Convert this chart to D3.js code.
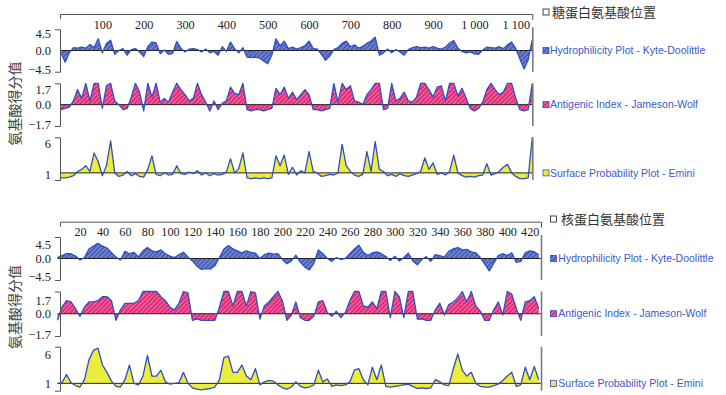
<!DOCTYPE html>
<html><head><meta charset="utf-8">
<script src="https://cdn.jsdelivr.net/npm/d3@7"></script>
<style>body{margin:0;background:#fff}svg{display:block}</style>
</head><body>
<svg id="c" width="726" height="395"></svg>
<script>
// ---------- DATA ----------
const seriesNames = ["Hydrophilicity Plot - Kyte-Doolittle", "Antigenic Index - Jameson-Wolf", "Surface Probability Plot - Emini"];
const panelTitles = ["糖蛋白氨基酸位置", "核蛋白氨基酸位置"];
const yTitle = "氨基酸得分值";

// glycoprotein: residue 0..1140, every 10 residues
const topStep = 10;
const topHydro = [-0.5,-2.5,-0.5,0.6,0.5,0.7,0.5,1.3,0.6,2.5,-0.5,1.5,2.2,-0.8,0,0.4,-1,0.2,0.4,-0.3,
 -1.3,0.8,1.8,1.6,-0.7,0.1,-0.8,-0.6,1.9,0.5,-0.3,0.3,0.4,0.2,-0.3,0.3,-0.5,-0.2,-1,0.8,
 -0.2,1.8,0.4,-0.5,0.6,-1.4,-1.5,-1.4,-1.6,-2.2,-2.8,-1.0,2.5,1.0,2.0,0.4,0.7,0.3,0.6,1.0,
 2.0,0.4,0.3,-0.8,-2.1,-1.2,0.2,0.6,1.5,2.0,0.8,1.2,0.5,0.9,1.5,2.0,2.8,-1.0,-0.5,0.3,
 -0.5,0.2,-0.3,-1.0,0.2,0.6,0.8,0.6,0.7,0.5,0.8,0.5,0.3,0.7,1.6,2.1,0.5,-0.2,-0.5,-0.3,
 -0.7,-0.8,0.1,0.7,0.6,0.5,0.8,0.4,1.2,1.8,0.4,-1.8,-3.9,-2.0,2.3];
const topAntigen = [-0.4,-0.3,-0.2,0.3,1.2,0.5,1.7,0.3,1.7,1.7,-0.3,1.5,1.7,0.3,0,-0.4,-0.3,0.6,1.7,1.0,
 -0.5,1.7,0.6,1.7,0.2,0.5,0.2,1.0,1.7,1.2,0.8,0.3,0.5,1.7,0.8,0.2,-0.5,0.3,-0.4,0.1,
 0.3,1.4,0.9,0.8,1.7,-0.4,-0.5,-0.4,-0.4,-0.5,-0.4,-0.3,1.3,0.8,1.4,0.5,1.0,0.4,0.8,1.2,
 0.8,-0.4,-0.4,-0.5,-0.4,-0.3,1.7,0.2,1.7,1.2,1.5,0.3,0.2,0,0.8,1.2,1.7,1.7,-0.4,-0.3,
 1.7,0.3,0.5,1.0,0.3,0.2,0.6,1.7,1.7,1.2,0.6,1.4,1.5,0.3,1.7,1.7,0.7,1.3,0.5,-0.3,
 -0.5,-0.3,0.2,1.2,1.7,1.2,0.8,1.0,1.7,1.7,0.5,-0.4,-0.5,-0.4,1.7];
const topSurface = [0.3,0.3,0.4,0.6,1.2,1.5,2.0,1.2,3.8,2.6,0.6,2.0,5.5,1.0,0.5,0.7,1.2,0.6,0.9,0.5,
 0.4,1.5,3.4,0.8,0.6,1.0,0.7,0.8,2.0,0.9,0.8,1.1,0.9,1.3,0.7,1.0,0.6,0.9,0.7,0.8,
 1.1,3.0,1.0,1.6,3.8,0.3,0.2,0.3,0.2,0.3,0.2,0.3,3.4,2.0,3.5,0.8,1.8,0.7,1.3,1.0,
 4.0,1.2,1.0,0.5,0.6,0.8,0.7,1.0,5.0,2.0,1.2,0.7,0.5,0.8,4.0,1.2,5.4,1.5,1.2,0.6,
 0.8,0.5,0.9,0.6,0.5,0.7,0.9,1.2,3.1,1.5,2.4,0.8,1.0,0.7,1.2,3.5,1.0,0.6,0.4,0.5,
 0.4,0.6,0.7,2.3,0.7,0.9,1.2,1.8,2.2,1.0,0.5,0.2,0.2,0.3,6.0];
const topTicks = [100,200,300,400,500,600,700,800,900,1000,1100];
const topTickLabels = ["100","200","300","400","500","600","700","800","900","1 000","1 100"];

// nucleoprotein: residue 0..428, every 4 residues
const botStep = 4;
const botHydro = [0.2,0.6,1.0,1.0,0.5,-0.3,0.2,2.0,2.6,3.2,2.6,2.2,1.2,0.3,-0.3,1.5,1.0,1.3,0.3,1.6,
 2.3,1.6,1.4,1.8,1.0,0.5,0.2,0.8,1.3,0.3,-0.5,-1.6,-2.3,-2.1,-2.2,-1.5,0.2,2.0,2.7,2.0,
 1.6,1.2,1.6,1.3,1.1,0.0,0.8,1.1,0.9,1.0,-0.2,-1.1,-0.5,0.7,
 -0.8,-1.8,-2.4,-1.0,1.8,1.0,0.0,-0.6,0.2,-0.2,0.0,1.0,2.0,2.8,1.3,0.6,1.2,1.4,1.0,0.4,
 -0.4,0.5,-0.5,0.2,1.1,-0.5,-1.3,-0.2,0.4,-0.6,0.8,0.6,0.3,1.5,2.0,2.3,1.8,1.9,1.4,1.2,
 0.2,-1.2,-2.6,-1.0,0.6,1.0,0.6,1.2,-0.8,-0.6,1.2,1.6,1.4,0.8];
const botAntigen = [-0.5,0.5,1.0,0.9,0.4,-0.2,0.5,0.9,0.9,1.0,1.3,1.3,1.0,-0.5,0.3,0.8,0.8,0.8,1.0,1.7,
 1.7,1.7,1.7,1.3,1.0,0.5,0.3,0.8,1.7,1.6,-0.5,-0.4,-0.5,-0.5,-0.5,-0.5,0.5,1.7,1.7,0.6,
 1.7,1.7,0.6,1.7,1.6,-0.4,0.6,0.9,1.3,1.7,1.0,-0.5,-0.1,0.9,
 -0.3,-0.5,-0.5,-0.2,0.9,1.0,0.1,-0.2,0.2,-0.3,0.1,1.0,1.7,1.7,0.6,0.5,0.9,0.4,1.7,1.7,
 -0.3,1.7,1.3,-0.3,1.7,1.7,-0.4,-0.4,-0.5,-0.5,0.3,0.8,-0.1,0.7,0.9,1.2,1.7,0.9,1.7,0.6,
 0.2,-0.5,-0.5,0.3,0.9,-0.1,1.7,1.5,0.4,-0.5,0.9,1.0,1.3,0.4];
const botSurface = [1.0,1.1,2.2,1.1,0.7,0.5,1.5,4.2,5.5,5.8,3.5,2.5,1.3,0.6,0.5,1.5,3.5,1.0,0.8,2.0,
 4.8,2.0,2.0,2.8,1.2,0.9,1.0,1.1,2.5,1.0,0.4,0.2,0.1,0.2,0.3,0.5,1.5,4.5,4.7,2.5,
 2.5,3.5,2.0,1.5,3.0,0.8,1.2,1.4,1.3,0.8,0.4,0.2,0.5,1.2,
 0.6,0.4,0.5,0.8,2.8,1.2,1.6,0.6,0.8,0.7,0.8,1.2,2.8,3.0,1.5,0.8,3.2,1.5,3.5,0.6,
 0.5,0.6,0.7,0.8,0.9,0.6,0.3,0.4,0.3,0.4,1.5,1.2,0.8,0.7,3.0,5.0,2.8,2.0,2.5,1.0,
 0.6,0.5,0.5,0.7,0.9,1.4,2.0,2.5,0.6,0.8,3.2,1.5,3.3,1.5];
const botTicks = [20,40,60,80,100,120,140,160,180,200,220,240,260,280,300,320,340,360,380,400,420];
const botTickLabels = botTicks.map(String);

const hydroTicks = [4.5, 0, -4.5], hydroTickLabels = ["4.5","0.0","\u22124.5"];
const antiTicks = [1.7, 0, -1.7], antiTickLabels = ["1.7","0.0","\u22121.7"];
const surfTicks = [6, 1], surfTickLabels = ["6","1"];

// ---------- LAYOUT ----------
const svg = d3.select("#c");
const defs = svg.append("defs");
function hatch(id, bg, fg) {
  const p = defs.append("pattern").attr("id", id).attr("patternUnits", "userSpaceOnUse")
    .attr("width", 3.2).attr("height", 3.2).attr("patternTransform", "rotate(45)");
  p.append("rect").attr("width", 3.2).attr("height", 3.2).attr("fill", bg);
  p.append("line").attr("x1", 0).attr("y1", 0).attr("x2", 0).attr("y2", 3.2)
    .attr("stroke", fg).attr("stroke-width", 1.1);
}
hatch("hBlue", "#4c62bd", "#aab6e6");
hatch("hPink", "#e4307a", "#f6a9c8");

const serifFont = "'Liberation Serif','Times New Roman',serif";
const cjkFont = "'Noto Sans CJK SC','Noto Sans CJK JP',sans-serif";
const sansFont = "'Liberation Sans',Arial,sans-serif";
const lineBlue = "#2e4fc2";
const legendBlue = "#3a5bc8";

const seriesCfg = [
  {domain: [-4.5, 4.5], base: 0, fill: "url(#hBlue)", ticks: hydroTicks, labels: hydroTickLabels},
  {domain: [-1.7, 1.7], base: 0, fill: "url(#hPink)", ticks: antiTicks, labels: antiTickLabels},
  {domain: [0, 6], base: 1, fill: "#ecec3c", ticks: surfTicks, labels: surfTickLabels}
];

const panels = [
  {data: [topHydro, topAntigen, topSurface], step: topStep, xDomain: [0, 1140], xRange: [61, 532.3],
   axisY: 14, axisStart: 60, ticks: topTicks, tickLabels: topTickLabels,
   sub: [[29.3, 71.7], [83.3, 126], [137.3, 180]], shifts: [[4.5, -2.5], [6.5, -2], [6, 2]],
   legSq: 543, legText: 550, titleY: 12, titleSq: 543, titleText: 552, yTitleY: 103.5, title: panelTitles[0]},
  {data: [botHydro, botAntigen, botSurface], step: botStep, xDomain: [0, 430], xRange: [57.5, 541],
   axisY: 221.7, axisStart: 60, ticks: botTicks, tickLabels: botTickLabels,
   sub: [[237, 280], [291.5, 336], [346.7, 390.7]], shifts: [[7, -3.5], [8.5, -2], [8, 0]],
   legSq: 550.5, legText: 558.3, titleY: 219, titleSq: 550.5, titleText: 561, yTitleY: 307, title: panelTitles[1]}
];

panels.forEach(P => {
  const g = svg.append("g");
  const x = d3.scaleLinear().domain(P.xDomain).range(P.xRange);

  // top x axis (labels below the line, no inner ticks)
  const xa = d3.axisBottom(x).tickValues(P.ticks).tickFormat((d, i) => P.tickLabels[i])
    .tickSizeInner(0).tickSizeOuter(0).tickPadding(6);
  const xg = g.append("g").attr("transform", `translate(0,${P.axisY})`).call(xa);
  xg.select(".domain").remove();
  xg.selectAll(".tick line").remove();
  xg.selectAll("text").attr("font-family", serifFont).attr("font-size", 12.2).attr("fill", "#222");
  g.append("path")
    .attr("d", `M${P.axisStart + 0.5},${P.axisY + 5}V${P.axisY + 0.5}H${P.xRange[1] + 0.5}V${P.axisY + 6}`)
    .attr("fill", "none").attr("stroke", "#555").attr("stroke-width", 1);

  P.data.forEach((vals, si) => {
    const cfg = seriesCfg[si];
    const [top, bot] = P.sub[si];
    const y = d3.scaleLinear().domain(cfg.domain).range([bot, top]);
    const area = d3.area().x((d, i) => x(i * P.step)).y0(y(cfg.base)).y1(d => y(d));
    const line = d3.line().x((d, i) => x(i * P.step)).y(d => y(d));

    g.append("path").datum(vals).attr("d", area).attr("fill", cfg.fill);
    g.append("line").attr("x1", x(0)).attr("x2", x(P.xDomain[1]))
      .attr("y1", y(cfg.base)).attr("y2", y(cfg.base)).attr("stroke", "#222").attr("stroke-width", 1);
    g.append("path").datum(vals).attr("d", line).attr("fill", "none")
      .attr("stroke", lineBlue).attr("stroke-width", 1.3).attr("stroke-linejoin", "round");

    // left bracket axis
    const ya = d3.axisLeft(y).tickValues(cfg.ticks).tickFormat((d, i) => cfg.labels[i])
      .tickSizeInner(0).tickSizeOuter(5).tickPadding(9);
    const yg = g.append("g").attr("transform", `translate(${P.axisStart},0)`).call(ya);
    yg.select(".domain").attr("stroke", "#555");
    yg.selectAll("text").attr("font-family", serifFont).attr("font-size", 12.5).attr("fill", "#222")
      .attr("transform", (d, i) => i === 0 ? `translate(0,${P.shifts[si][0]})` :
        (i === cfg.ticks.length - 1 ? `translate(0,${P.shifts[si][1]})` : null));

    // right border
    g.append("line").attr("x1", P.xRange[1] + 0.5).attr("x2", P.xRange[1] + 0.5)
      .attr("y1", si === 0 ? top - 2 : top).attr("y2", bot)
      .attr("stroke", "#7a7a7a").attr("stroke-width", 1.6);

    // legend entry
    const ly = y(cfg.base);
    g.append("rect").attr("x", P.legSq).attr("y", ly - 3).attr("width", 6).attr("height", 6)
      .attr("fill", cfg.fill).attr("stroke", lineBlue).attr("stroke-width", 0.8);
    g.append("text").attr("x", P.legText).attr("y", ly).attr("dy", "0.35em")
      .attr("font-family", sansFont).attr("font-size", 10.5).attr("fill", legendBlue)
      .text(seriesNames[si]);
  });

  // panel title legend
  g.append("rect").attr("x", P.titleSq).attr("y", P.titleY - 3).attr("width", 6).attr("height", 6)
    .attr("fill", "#fff").attr("stroke", "#333").attr("stroke-width", 0.9);
  g.append("text").attr("x", P.titleText).attr("y", P.titleY).attr("dy", "0.36em")
    .attr("font-family", cjkFont).attr("font-size", 13).attr("fill", "#333").text(P.title);

  // y axis title
  g.append("text").attr("transform", `translate(15,${P.yTitleY}) rotate(-90)`)
    .attr("text-anchor", "middle").attr("dy", "0.36em")
    .attr("font-family", cjkFont).attr("font-size", 14).attr("fill", "#444").text(yTitle);
});
</script>
</body></html>
